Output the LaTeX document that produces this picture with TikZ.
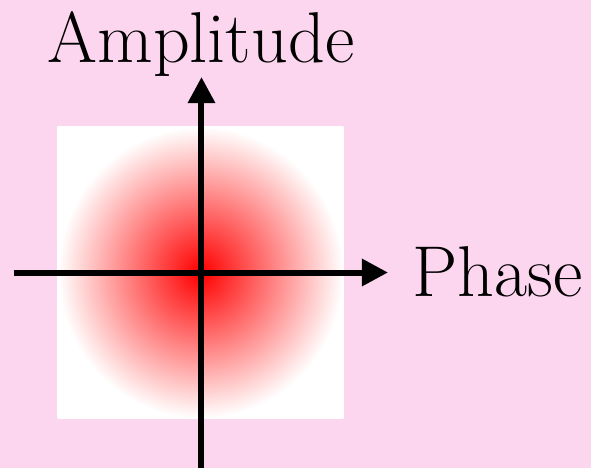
\documentclass[tikz,border=0pt]{standalone}
\usepackage{tikz}
\usetikzlibrary{positioning,arrows.meta}
\definecolor{backpink}{RGB}{252,213,238}
\tikzset{
  axisline/.style={line width=3pt,-{Triangle[length=13pt,width=13pt]}},
  axislabel/.style={inner sep=0pt,font=\fontsize{36}{43}\selectfont}
}
\begin{document}
\begin{tikzpicture}[x=0.5pt,y=-0.5pt]
  \fill[backpink] (0,0) rectangle (591,468);
  \useasboundingbox (0,0) rectangle (591,468);
  \shade[inner color=red,outer color=white] (57.7,126.7) rectangle (343.3,418.3);
  \coordinate (xstart) at (14,272.5);
  \coordinate (xend) at (388,272.5);
  \coordinate (ystart) at (201.5,468);
  \coordinate (yend) at (201.5,77);
  \draw[axisline] (xstart) -- (xend);
  \draw[axisline] (ystart) -- (yend);
  \node[axislabel,anchor=base] (amp) at (201,62) {Amplitude};
  \node[axislabel,anchor=base west] (phase) at (412,296) {Phase};
\end{tikzpicture}
\end{document}
